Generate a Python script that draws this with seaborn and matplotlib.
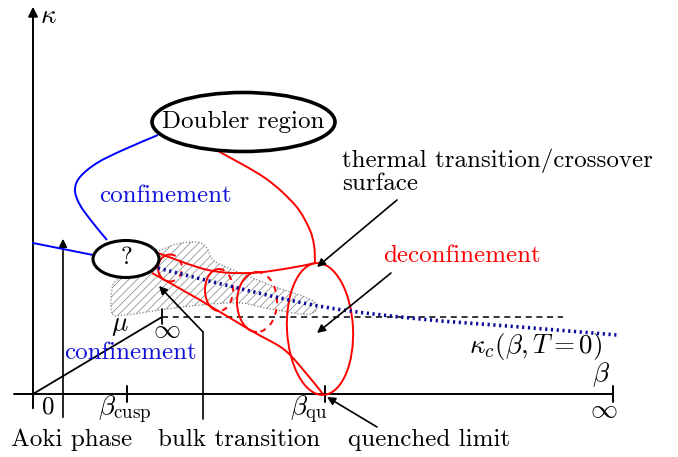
import numpy as np
import matplotlib
matplotlib.use("Agg")
import matplotlib.pyplot as plt
import seaborn as sns
from matplotlib.patches import Ellipse, Arc, PathPatch
from matplotlib.path import Path

# schematic, coordinates in pixels (x right, y down)
beta_axis_x = [14, 613]
beta_axis_y = [394, 394]
beta_ticks_x = [127, 325, 613]
beta_tick_labels = [r"$\beta_{\rm cusp}$", r"$\beta_{\rm qu}$", r"$\infty$"]
beta_label_x = [125, 309, 604]

blue_curve_x = [158, 123, 97, 80, 75, 80, 93, 107]
blue_curve_y = [135, 150, 163, 177, 190, 205, 223, 240]
blue_line_x = [33, 93]
blue_line_y = [243, 255]

red_curve_x = [218, 265, 295, 309, 314, 315]
red_curve_y = [151, 178, 205, 228, 245, 263]
funnel_top_x = [158, 208, 250, 290, 315]
funnel_top_y = [253, 270, 273, 268, 263]
funnel_bot_x = [152, 200, 250, 282, 300, 323]
funnel_bot_y = [273, 300, 330, 348, 366, 394]

# thermal surface cross-sections: centre x, centre y, width, height
section_x = [170, 219, 257]
section_y = [268, 290, 302]
section_w = [24, 28, 40]
section_h = [27, 42, 60]

kappa_c_x = [158, 250, 330, 420, 520, 617]
kappa_c_y = [268, 291, 308, 319, 327, 335]

bulk_x = [112, 113, 125, 140, 158, 177, 197, 207, 213, 233, 270, 313,
          310, 270, 240, 200, 160, 125]
bulk_y = [313, 285, 275, 258, 251, 244, 242, 248, 260, 270, 285, 301,
          314, 309, 303, 305, 310, 315]

mu_x = [33, 162]
mu_y = [394, 317]
dashed_x = [162, 563]
dashed_y = [317, 317]


def smooth(xs, ys, closed=False):
    p = np.column_stack([xs, ys]).astype(float)
    n = len(p)
    verts, codes = [p[0]], [Path.MOVETO]
    segs = n if closed else n - 1
    for i in range(segs):
        p1, p2 = p[i], p[(i + 1) % n]
        p0 = p[i - 1] if (i > 0 or closed) else p1
        p3 = p[(i + 2) % n] if (i + 2 < n or closed) else p2
        verts += [p1 + (p2 - p0) / 6, p2 - (p3 - p1) / 6, p2]
        codes += [Path.CURVE4] * 3
    return Path(verts, codes)


sns.set_theme(style="white")
plt.rcParams['font.family'] = ['cmr10', 'DejaVu Serif']
plt.rcParams['mathtext.fontset'] = 'cm'
plt.rcParams['axes.unicode_minus'] = False
plt.rcParams['hatch.linewidth'] = 0.5
plt.rcParams['text.color'] = 'black'

fig = plt.figure(figsize=(6.78, 4.57), dpi=100)
ax = fig.add_axes([0, 0, 1, 1])
ax.set_xlim(0, 678)
ax.set_ylim(457, 0)
ax.axis("off")

RED = "#ff0000"
BLUE = "#0000ff"
NAVY = "#0a0a9a"
FS = 18
MFS = 19.5

# hatched bulk transition region
ax.add_patch(PathPatch(smooth(bulk_x, bulk_y, closed=True), facecolor="none",
                       edgecolor="0.5", lw=0.9, ls=(0, (1, 1.5)), hatch="////", zorder=1))

# axes
sns.lineplot(x=beta_axis_x, y=beta_axis_y, color="black", lw=1.4, sort=False, estimator=None, ax=ax)
for bx in beta_ticks_x:
    sns.lineplot(x=[bx, bx], y=[386, 402], color="black", lw=1.4, sort=False, estimator=None, ax=ax)
for lab, lx in zip(beta_tick_labels, beta_label_x):
    ax.text(lx, 410, lab, ha="center", va="center", fontsize=MFS)
ax.text(48, 407, "0", ha="center", va="center", fontsize=FS)
ax.text(601, 375, r"$\beta$", ha="center", va="center", fontsize=MFS)

ax.annotate("", xy=(33, 4), xytext=(33, 411),
            arrowprops=dict(arrowstyle="-|>", color="black", lw=1.4, mutation_scale=14))
ax.text(40, 16, r"$\kappa$", ha="left", va="center", fontsize=MFS)

# Aoki phase arrow
ax.annotate("", xy=(63, 236), xytext=(63, 420),
            arrowprops=dict(arrowstyle="-|>", color="black", lw=1.2, mutation_scale=12))

# mu line and dashed line
sns.lineplot(x=mu_x, y=mu_y, color="black", lw=1.3, sort=False, estimator=None, ax=ax)
sns.lineplot(x=[162, 162], y=[309, 324], color="black", lw=1.3, sort=False, estimator=None, ax=ax)
ax.plot(dashed_x, dashed_y, color="black", lw=1.1, ls=(0, (4, 3)))
ax.text(120, 326, r"$\mu$", ha="center", va="center", fontsize=MFS)
ax.text(167, 330, r"$\infty$", ha="center", va="center", fontsize=MFS)

# bulk transition pointer
sns.lineplot(x=[203, 203], y=[419, 332], color="black", lw=1.2, sort=False, estimator=None, ax=ax)
ax.annotate("", xy=(159, 286), xytext=(203, 332),
            arrowprops=dict(arrowstyle="-|>", color="black", lw=1.2, mutation_scale=12,
                            shrinkA=0, shrinkB=0))

# blue confinement boundaries
ax.add_patch(PathPatch(smooth(blue_curve_x, blue_curve_y), facecolor="none", edgecolor=BLUE, lw=1.4, zorder=3))
ax.plot(blue_line_x, blue_line_y, color=BLUE, lw=1.4, zorder=3)

# red thermal surface
ax.add_patch(PathPatch(smooth(red_curve_x, red_curve_y), facecolor="none", edgecolor=RED, lw=1.4, zorder=3))
ax.add_patch(PathPatch(smooth(funnel_top_x, funnel_top_y), facecolor="none", edgecolor=RED, lw=1.4, zorder=3))
ax.add_patch(PathPatch(smooth(funnel_bot_x, funnel_bot_y), facecolor="none", edgecolor=RED, lw=1.4, zorder=3))
for cx, cy, w, h in zip(section_x, section_y, section_w, section_h):
    ax.add_patch(Arc((cx, cy), w, h, theta1=90, theta2=270, color=RED, lw=1.4, zorder=3))
    ax.add_patch(Arc((cx, cy), w, h, theta1=-90, theta2=90, color=RED, lw=1.4,
                     ls=(0, (3, 3)), zorder=3))
ax.add_patch(Ellipse((320, 329), 66, 132, angle=-3, facecolor="none", edgecolor=RED, lw=1.4, zorder=3))

# kappa_c line
ax.add_patch(PathPatch(smooth(kappa_c_x, kappa_c_y), facecolor="none", edgecolor=NAVY,
                       lw=2.6, ls=(0, (0.6, 1.0)), zorder=4))

# ellipses
ax.add_patch(Ellipse((243.5, 122), 183, 59, facecolor="white", edgecolor="black", lw=2.6, zorder=5))
ax.text(243.5, 122, "Doubler region", ha="center", va="center", fontsize=FS, zorder=6)
ax.add_patch(Ellipse((126, 259), 66, 37, facecolor="white", edgecolor="black", lw=2.2, zorder=5))
ax.text(126, 258, "?", ha="center", va="center", fontsize=FS, zorder=6)

# labels
ax.text(99, 202, "confinement", color="#1010d8", ha="left", va="baseline", fontsize=FS)
ax.text(64, 359, "confinement", color="#1010d8", ha="left", va="baseline", fontsize=FS)
ax.text(383, 262, "deconfinement", color=RED, ha="left", va="baseline", fontsize=FS)
ax.text(342, 167, "thermal transition/crossover", ha="left", va="baseline", fontsize=FS)
ax.text(342, 190, "surface", ha="left", va="baseline", fontsize=FS)
ax.text(536, 346, r"$\kappa_c(\beta,T=0)$", ha="center", va="center", fontsize=MFS)
ax.text(72, 440, "Aoki phase", ha="center", va="center", fontsize=FS)
ax.text(239, 440, "bulk transition", ha="center", va="center", fontsize=FS)
ax.text(429, 440, "quenched limit", ha="center", va="center", fontsize=FS)

for tail, head in [((397, 200), (317, 267)), ((391, 273), (317, 333)), ((377, 427), (327, 397))]:
    ax.annotate("", xy=head, xytext=tail,
                arrowprops=dict(arrowstyle="-|>", color="black", lw=1.2, mutation_scale=12,
                                shrinkA=0, shrinkB=0), zorder=6)

fig.savefig("out.png", dpi=100)
